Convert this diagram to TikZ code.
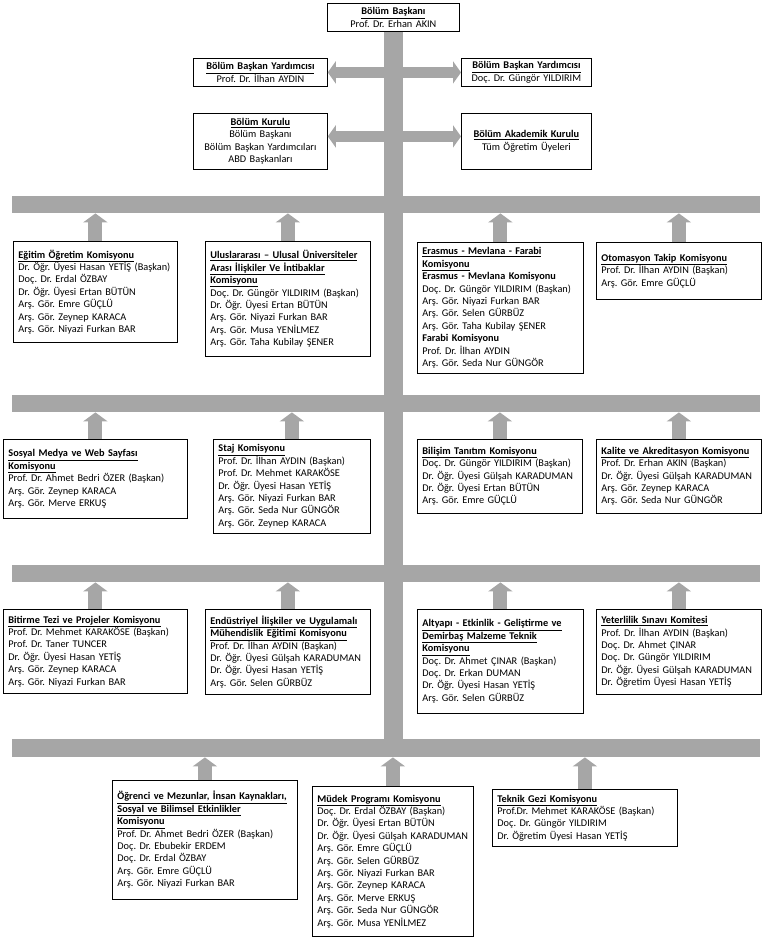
\documentclass[tikz,border=0pt]{standalone}
\usepackage{fontspec}
\setmainfont{Carlito}
\usetikzlibrary{arrows.meta}
\colorlet{kolgri}{black!35}
\newcommand{\bsl}[1]{\textbf{\underline{#1}}}
\frenchspacing

\begin{document}
\begin{tikzpicture}[x=1pt,y=-1pt,
  kutu/.style={draw,line width=0.8pt,fill=white,anchor=north west,inner xsep=5pt,inner ysep=2pt,font=\fontsize{10.3}{12.4}\selectfont},
  kom/.style={kutu,align=left},
  yon/.style={kutu,align=center},
  kol/.style={fill=kolgri,anchor=north west,inner sep=0pt,minimum width=748pt,minimum height=17pt},
  ok/.style={kolgri,line width=14pt,-{Triangle[width=24pt,length=9pt]}},
  ciftok/.style={kolgri,line width=11pt,{Triangle[width=22pt,length=8pt]}-{Triangle[width=22pt,length=8pt]}}
]
  \useasboundingbox (0,0) rectangle (762,940);

  % yatay kollar
  \node[kol] (bar1) at (12,196) {};
  \node[kol] (bar2) at (12,395) {};
  \node[kol] (bar3) at (12,565) {};
  \node[kol,minimum height=18pt] (bar4) at (12,739) {};

  % yonetim
  \node[yon,text width=122pt,minimum height=28pt] (bas) at (327,3)
    {\bsl{Bölüm Başkanı}\\ Prof. Dr. Erhan AKIN};
  \draw[kolgri,line width=19pt] (bas.south) -- (bas.south |- bar4.north);

  \node[yon,text width=124pt,minimum height=28pt] (yrd1) at (193,58)
    {\bsl{Bölüm Başkan Yardımcısı}\\ Prof. Dr. İlhan AYDIN};
  \node[yon,text width=120pt,minimum height=28pt] (yrd2) at (461,58)
    {\bsl{Bölüm Başkan Yardımcısı}\\ Doç. Dr. Güngör YILDIRIM};
  \node[yon,text width=124pt,minimum height=56pt] (kurul) at (193,113)
    {\bsl{Bölüm Kurulu}\\ Bölüm Başkanı\\ Bölüm Başkan Yardımcıları\\ ABD Başkanları};
  \node[yon,text width=120pt,minimum height=56pt] (akad) at (461,113)
    {\bsl{Bölüm Akademik Kurulu}\\ Tüm Öğretim Üyeleri};

  \draw[ciftok] (yrd1.east) -- (yrd2.west);
  \draw[ciftok] ([yshift=5pt]kurul.east) -- ([yshift=5pt]akad.west);

  % 1. sira
  \node[kom,text width=154pt,minimum height=101pt] (egitim) at (13,241)
    {\bsl{Eğitim Öğretim Komisyonu}\\
     Dr. Öğr. Üyesi Hasan YETİŞ (Başkan)\\
     Doç. Dr. Erdal ÖZBAY\\
     Dr. Öğr. Üyesi Ertan BÜTÜN\\
     Arş. Gör. Emre GÜÇLÜ\\
     Arş. Gör. Zeynep KARACA\\
     Arş. Gör. Niyazi Furkan BAR};
  \node[kom,text width=155pt,minimum height=115pt] (ulus) at (205,241)
    {\bsl{Uluslararası – Ulusal Üniversiteler}\\
     \bsl{Arası İlişkiler Ve İntibaklar}\\
     \bsl{Komisyonu}\\
     Doç. Dr. Güngör YILDIRIM (Başkan)\\
     Dr. Öğr. Üyesi Ertan BÜTÜN\\
     Arş. Gör. Niyazi Furkan BAR\\
     Arş. Gör. Musa YENİLMEZ\\
     Arş. Gör. Taha Kubilay ŞENER};
  \node[kom,text width=156pt,minimum height=131pt] (erasmus) at (417,242)
    {\bsl{Erasmus - Mevlana - Farabi}\\
     \bsl{Komisyonu}\\
     \textbf{Erasmus - Mevlana Komisyonu}\\
     Doç. Dr. Güngör YILDIRIM (Başkan)\\
     Arş. Gör. Niyazi Furkan BAR\\
     Arş. Gör. Selen GÜRBÜZ\\
     Arş. Gör. Taha Kubilay ŞENER\\
     \textbf{Farabi Komisyonu}\\
     Prof. Dr. İlhan AYDIN\\
     Arş. Gör. Seda Nur GÜNGÖR};
  \node[kom,text width=155pt,minimum height=57pt] (otomasyon) at (596,242)
    {\bsl{Otomasyon Takip Komisyonu}\\
     Prof. Dr. İlhan AYDIN (Başkan)\\
     Arş. Gör. Emre GÜÇLÜ};

  % 2. sira
  \node[kom,text width=174pt,minimum height=79pt] (sosyal) at (3,439)
    {\bsl{Sosyal Medya ve Web Sayfası}\\
     \bsl{Komisyonu}\\
     Prof. Dr. Ahmet Bedri ÖZER (Başkan)\\
     Arş. Gör. Zeynep KARACA\\
     Arş. Gör. Merve ERKUŞ};
  \node[kom,text width=147pt,minimum height=94pt] (staj) at (213,439)
    {\bsl{Staj Komisyonu}\\
     Prof. Dr. İlhan AYDIN (Başkan)\\
     Prof. Dr. Mehmet KARAKÖSE\\
     Dr. Öğr. Üyesi Hasan YETİŞ\\
     Arş. Gör. Niyazi Furkan BAR\\
     Arş. Gör. Seda Nur GÜNGÖR\\
     Arş. Gör. Zeynep KARACA};
  \node[kom,text width=155pt,minimum height=74pt] (bilisim) at (417,439)
    {\bsl{Bilişim Tanıtım Komisyonu}\\
     Doç. Dr. Güngör YILDIRIM (Başkan)\\
     Dr. Öğr. Üyesi Gülşah KARADUMAN\\
     Dr. Öğr. Üyesi Ertan BÜTÜN\\
     Arş. Gör. Emre GÜÇLÜ};
  \node[kom,text width=155pt,minimum height=74pt] (kalite) at (596,439)
    {\bsl{Kalite ve Akreditasyon Komisyonu}\\
     Prof. Dr. Erhan AKIN (Başkan)\\
     Dr. Öğr. Üyesi Gülşah KARADUMAN\\
     Arş. Gör. Zeynep KARACA\\
     Arş. Gör. Seda Nur GÜNGÖR};

  % 3. sira
  \node[kom,text width=174pt,minimum height=84pt] (bitirme) at (3,609)
    {\bsl{Bitirme Tezi ve Projeler Komisyonu}\\
     Prof. Dr. Mehmet KARAKÖSE (Başkan)\\
     Prof. Dr. Taner TUNCER\\
     Dr. Öğr. Üyesi Hasan YETİŞ\\
     Arş. Gör. Zeynep KARACA\\
     Arş. Gör. Niyazi Furkan BAR};
  \node[kom,text width=155pt,minimum height=85pt] (endustri) at (205,609)
    {\bsl{Endüstriyel İlişkiler ve Uygulamalı}\\
     \bsl{Mühendislik Eğitimi Komisyonu}\\
     Prof. Dr. İlhan AYDIN (Başkan)\\
     Dr. Öğr. Üyesi Gülşah KARADUMAN\\
     Dr. Öğr. Üyesi Hasan YETİŞ\\
     Arş. Gör. Selen GÜRBÜZ};
  \node[kom,text width=156pt,minimum height=104pt] (altyapi) at (417,609)
    {\bsl{Altyapı - Etkinlik - Geliştirme ve}\\
     \bsl{Demirbaş Malzeme Teknik}\\
     \bsl{Komisyonu}\\
     Doç. Dr. Ahmet ÇINAR (Başkan)\\
     Doç. Dr. Erkan DUMAN\\
     Dr. Öğr. Üyesi Hasan YETİŞ\\
     Arş. Gör. Selen GÜRBÜZ};
  \node[kom,text width=155pt,minimum height=85pt] (yeterlilik) at (596,609)
    {\bsl{Yeterlilik Sınavı Komitesi}\\
     Prof. Dr. İlhan AYDIN (Başkan)\\
     Doç. Dr. Ahmet ÇINAR\\
     Doç. Dr. Güngör YILDIRIM\\
     Dr. Öğr. Üyesi Gülşah KARADUMAN\\
     Dr. Öğretim Üyesi Hasan YETİŞ};

  % 4. sira
  \node[kom,text width=175pt,minimum height=119pt] (ogrenci) at (112,780)
    {\bsl{Öğrenci ve Mezunlar, İnsan Kaynakları,}\\
     \bsl{Sosyal ve Bilimsel Etkinlikler}\\
     \bsl{Komisyonu}\\
     Prof. Dr. Ahmet Bedri ÖZER (Başkan)\\
     Doç. Dr. Ebubekir ERDEM\\
     Doç. Dr. Erdal ÖZBAY\\
     Arş. Gör. Emre GÜÇLÜ\\
     Arş. Gör. Niyazi Furkan BAR};
  \node[kom,text width=151pt,minimum height=150pt] (mudek) at (312,786)
    {\bsl{Müdek Programı Komisyonu}\\
     Doç. Dr. Erdal ÖZBAY (Başkan)\\
     Dr. Öğr. Üyesi Ertan BÜTÜN\\
     Dr. Öğr. Üyesi Gülşah KARADUMAN\\
     Arş. Gör. Emre GÜÇLÜ\\
     Arş. Gör. Selen GÜRBÜZ\\
     Arş. Gör. Niyazi Furkan BAR\\
     Arş. Gör. Zeynep KARACA\\
     Arş. Gör. Merve ERKUŞ\\
     Arş. Gör. Seda Nur GÜNGÖR\\
     Arş. Gör. Musa YENİLMEZ};
  \node[kom,text width=175pt,minimum height=57pt] (teknik) at (492,789)
    {\bsl{Teknik Gezi Komisyonu}\\
     Prof.Dr. Mehmet KARAKÖSE (Başkan)\\
     Doç. Dr. Güngör YILDIRIM\\
     Dr. Öğretim Üyesi Hasan YETİŞ};

  % oklar
  \foreach \k/\b in {egitim/bar1,ulus/bar1,erasmus/bar1,otomasyon/bar1,
                     sosyal/bar2,staj/bar2,bilisim/bar2,kalite/bar2,
                     bitirme/bar3,endustri/bar3,altyapi/bar3,yeterlilik/bar3,
                     ogrenci/bar4,mudek/bar4,teknik/bar4}
    \draw[ok] (\k.north) -- (\k.north |- \b.south);
\end{tikzpicture}
\end{document}
